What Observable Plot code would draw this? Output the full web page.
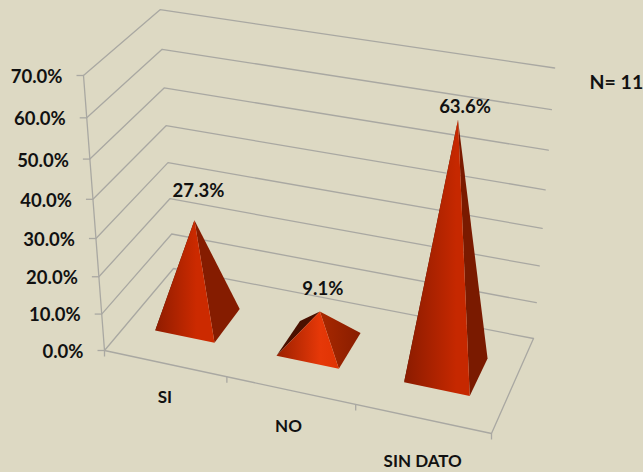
<!DOCTYPE html>
<html><head><meta charset="utf-8">
<script src="https://cdn.jsdelivr.net/npm/d3@7"></script>
<script src="https://cdn.jsdelivr.net/npm/@observablehq/plot@0.6"></script>
<style>html,body{margin:0;padding:0;background:#DDD9C3;overflow:hidden}svg{display:block}</style>
</head><body><div id="chart"></div>
<script>
const categories = ["SI", "NO", "SIN DATO"];
const values = [27.3, 9.1, 63.6];
const valueLabels = ["27.3%", "9.1%", "63.6%"];
const ticks = [0, 10, 20, 30, 40, 50, 60, 70];
const sampleSize = "N= 11";

const W = 643, H = 472, VMAX = 70;
// Perspective camera of the 3D box
const O = [104, 350], U = [491, 433], D = [173, 268], T = [83, 75];
const a = -0.0751, b = 0.0838, c = -0.084, skew = 3;
function project(u, d, v) {
  const t = v / VMAX, w = 1 + a*u + b*d + c*t;
  const f = i => (O[i] + u*((1+a)*U[i]-O[i]) + d*((1+b)*D[i]-O[i]) + t*((1+c)*T[i]-O[i])) / w + skew*u*d*t;
  return {x: f(0), y: f(1)};
}
const center = i => (i + 0.5) / categories.length;
const halfL = 0.085, halfR = 0.08, d0 = 0.3, d1 = 0.7;

const grid = ticks.flatMap(v => [
  {v, ...project(0,0,v)}, {v, ...project(0,1,v)}, {v, ...project(1,1,v)}
]);
const axisColor = "#a9a8a2";
const lineOpts = {x:"x", y:"y", stroke:axisColor, strokeWidth:1.3};
const floor = [project(0,0,0), project(1,0,0), project(1,1,0)];
const wallAxis = [project(0,0,0), project(0,0,VMAX)];
const yTicks = ticks.map(v => ({v, ...project(0,0,v)}));
const xTicks = [0,1,2,3].map(i => project(i/3,0,0));

function faces(i) {
  const u = center(i), v = values[i];
  const apex = project(u,(d0+d1)/2,v);
  const fl = project(u-halfL,d0,0), fr = project(u+halfR,d0,0),
        br = project(u+halfR,d1,0), bl = project(u-halfL,d1,0);
  return {front:[fl,fr,apex], right:[fr,br,apex], left:[fl,bl,apex], apex};
}
const defs = () => {
  const ns = "http://www.w3.org/2000/svg";
  const defsEl = document.createElementNS(ns,"defs");
  const mk = (id, stops) => {
    const d = document.createElementNS(ns,"linearGradient");
    d.setAttribute("id",id); d.setAttribute("x1",0); d.setAttribute("y1",0);
    d.setAttribute("x2",1); d.setAttribute("y2",0);
    stops.forEach(([o,col]) => { const s = document.createElementNS(ns,"stop");
      s.setAttribute("offset",o); s.setAttribute("stop-color",col); d.appendChild(s); });
    defsEl.appendChild(d);
  };
  mk("front0", [[0,"#8f1c00"],[0.7,"#cc2a00"],[1,"#cc2a00"]]);
  mk("front1", [[0,"#9a2000"],[0.7,"#e63808"],[1,"#e03404"]]);
  mk("front2", [[0,"#8a1b00"],[0.8,"#c62800"],[1,"#c62800"]]);
  mk("right1", [[0,"#a82800"],[1,"#881d00"]]);
  return defsEl;
};
const rightFill = ["#851c00", "url(#right1)", "#7a1a00"];
const pyramidMarks = categories.flatMap((_, i) => {
  const f = faces(i);
  const poly = (pts, fill) => Plot.line(pts, {x:"x", y:"y", fill, stroke:"none", curve:"linear-closed"});
  return [poly(f.left,"#4a1000"), poly(f.right,rightFill[i]), poly(f.front,`url(#front${i})`)];
});
const txt = {fontWeight:700, fontSize:18.5, fill:"#111"};
const labelMark = (i, dx, dy) => Plot.text([{...faces(i).apex, s:valueLabels[i]}],
  {x:"x", y:"y", text:"s", dx, dy, ...txt});
const catMark = (i, dx, dy) => Plot.text([{...project(center(i),0,0), s:categories[i]}],
  {x:"x", y:"y", text:"s", dx, dy, ...txt, fontSize:17});

const plot = Plot.plot({
  width:W, height:H, margin:0,
  x:{domain:[0,W], range:[0,W], axis:null},
  y:{domain:[0,H], range:[0,H], axis:null},
  style:{background:"transparent", fontFamily:"Lato, sans-serif"},
  marks:[
    defs,
    Plot.line(grid, {...lineOpts, z:"v"}),
    Plot.line(floor, lineOpts),
    Plot.line(wallAxis, lineOpts),
    Plot.link(yTicks, {x1:d=>d.x-7, x2:"x", y1:"y", y2:"y", stroke:axisColor, strokeWidth:1.3}),
    Plot.link(xTicks, {x1:"x", x2:"x", y1:"y", y2:d=>d.y+6, stroke:axisColor, strokeWidth:1.3}),
    ...pyramidMarks,
    Plot.text(yTicks, {x:"x", y:"y", text:d=>d.v.toFixed(1)+"%", textAnchor:"end", dx:-21, dy:1.5, ...txt}),
    labelMark(0, 4, -29), labelMark(1, 3, -22), labelMark(2, 7, -13),
    catMark(0, 0, 34), catMark(1, -2, 36), catMark(2, 0, 43),
    Plot.text([sampleSize], {frameAnchor:"top-left", text:d=>d, dx:589, dy:82, lineAnchor:"middle", textAnchor:"start", ...txt, fontSize:19.5})
  ]
});
document.getElementById("chart").appendChild(plot);
</script></body></html>
